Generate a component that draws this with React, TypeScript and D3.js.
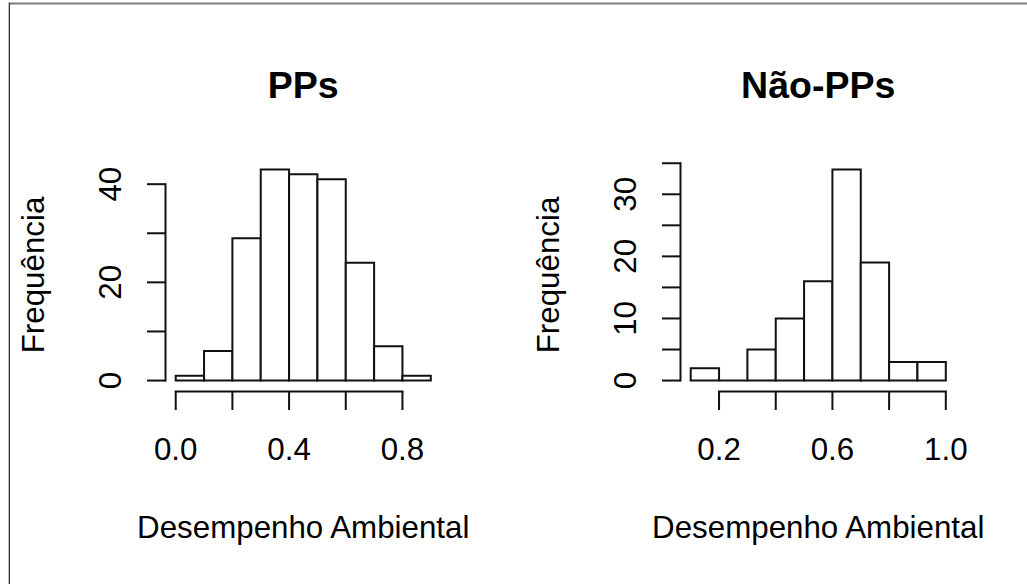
import React from "react";
import * as d3 from "d3";

// Histogram bin counts (bin width 0.1)
const ppsBreaks = [0, 0.1, 0.2, 0.3, 0.4, 0.5, 0.6, 0.7, 0.8, 0.9];
const ppsCounts = [1, 6, 29, 43, 42, 41, 24, 7, 1];

const naoBreaks = [0.1, 0.2, 0.3, 0.4, 0.5, 0.6, 0.7, 0.8, 0.9, 1.0];
const naoCounts = [2, 0, 5, 10, 16, 34, 19, 3, 3];

// Axis ticks and the labels that are printed
const ppsXTicks = [0, 0.2, 0.4, 0.6, 0.8];
const ppsXLabels = [0, 0.4, 0.8];
const ppsYTicks = [0, 10, 20, 30, 40];
const ppsYLabels = [0, 20, 40];

const naoXTicks = [0.2, 0.4, 0.6, 0.8, 1.0];
const naoXLabels = [0.2, 0.6, 1.0];
const naoYTicks = [0, 5, 10, 15, 20, 25, 30, 35];
const naoYLabels = [0, 10, 20, 30];

const titles = ["PPs", "Não-PPs"];
const xTitle = "Desempenho Ambiental";
const yTitle = "Frequência";

const W = 1027;
const H = 584;
const FONT = "'Liberation Sans', Arial, sans-serif";
const FS = 31.3;
const INK = "#111";

type PanelProps = {
  left: number;
  breaks: number[];
  counts: number[];
  xTicks: number[];
  xLabels: number[];
  yTicks: number[];
  yLabels: number[];
  title: string;
};

function Panel({ left, breaks, counts, xTicks, xLabels, yTicks, yLabels, title }: PanelProps) {
  const plotW = 275.5;
  const top = 161;
  const bottom = 389;
  const x0 = breaks[0];
  const x1 = breaks[breaks.length - 1];
  const xr = x1 - x0;
  const x = d3
    .scaleLinear()
    .domain([x0 - 0.04 * xr, x1 + 0.04 * xr])
    .range([left, left + plotW]);
  const yMax = d3.max(counts) as number;
  const y = d3
    .scaleLinear()
    .domain([-0.04 * yMax, yMax * 1.04])
    .range([bottom, top]);

  const axisY = 391.5;
  const tick = 18.5;
  const cx = left + plotW / 2;
  const cy = (top + bottom) / 2;
  const fmt = d3.format(".1f");

  // each bin as a closed outline, so empty bins still show along the baseline
  const barPath = (i: number) => {
    const p = d3.path();
    p.moveTo(x(breaks[i]), y(0));
    p.lineTo(x(breaks[i]), y(counts[i]));
    p.lineTo(x(breaks[i + 1]), y(counts[i]));
    p.lineTo(x(breaks[i + 1]), y(0));
    p.closePath();
    return p.toString();
  };

  return (
    <g>
      {/* bars */}
      {counts.map((_, i) => (
        <path key={i} d={barPath(i)} fill="white" stroke={INK} strokeWidth={2} strokeLinejoin="miter" />
      ))}

      {/* x axis */}
      <line
        x1={x(xTicks[0])}
        x2={x(xTicks[xTicks.length - 1])}
        y1={axisY}
        y2={axisY}
        stroke={INK}
        strokeWidth={2}
        strokeLinecap="square"
      />
      {xTicks.map((t) => (
        <line key={t} x1={x(t)} x2={x(t)} y1={axisY} y2={axisY + tick} stroke={INK} strokeWidth={2} />
      ))}
      {xLabels.map((t) => (
        <text key={t} x={x(t)} y={460} textAnchor="middle" fontFamily={FONT} fontSize={FS} fill="#000">
          {fmt(t)}
        </text>
      ))}

      {/* y axis */}
      <line
        x1={left}
        x2={left}
        y1={y(yTicks[0])}
        y2={y(yTicks[yTicks.length - 1])}
        stroke={INK}
        strokeWidth={2}
        strokeLinecap="square"
      />
      {yTicks.map((t) => (
        <line key={t} x1={left - tick} x2={left} y1={y(t)} y2={y(t)} stroke={INK} strokeWidth={2} />
      ))}
      {yLabels.map((t) => (
        <text
          key={t}
          transform={`translate(${left - 44.5},${y(t)}) rotate(-90)`}
          textAnchor="middle"
          fontFamily={FONT}
          fontSize={FS}
          fill="#000"
        >
          {t}
        </text>
      ))}

      {/* titles */}
      <text x={cx} y={98} textAnchor="middle" fontFamily={FONT} fontSize={FS * 1.2} fontWeight="bold" fill="#000">
        {title}
      </text>
      <text x={cx} y={538} textAnchor="middle" fontFamily={FONT} fontSize={FS} fill="#000">
        {xTitle}
      </text>
      <text
        transform={`translate(${left - 122},${cy}) rotate(-90)`}
        textAnchor="middle"
        fontFamily={FONT}
        fontSize={FS}
        fill="#000"
      >
        {yTitle}
      </text>
    </g>
  );
}

export default function App() {
  return (
    <svg
      width={W}
      height={H}
      style={{ position: "absolute", left: 0, top: 0, background: "white" }}
    >
      <rect x={0} y={0} width={W} height={H} fill="white" />
      {/* frame */}
      <line x1={8} x2={W} y1={3.5} y2={3.5} stroke="#7a7a7a" strokeWidth={2} />
      <line x1={8.5} x2={8.5} y1={3} y2={H} stroke="#bbbbbb" strokeWidth={1} />
      <line x1={9.5} x2={9.5} y1={3} y2={H} stroke="#333333" strokeWidth={1} />

      <Panel
        left={165.5}
        breaks={ppsBreaks}
        counts={ppsCounts}
        xTicks={ppsXTicks}
        xLabels={ppsXLabels}
        yTicks={ppsYTicks}
        yLabels={ppsYLabels}
        title={titles[0]}
      />
      <Panel
        left={680.5}
        breaks={naoBreaks}
        counts={naoCounts}
        xTicks={naoXTicks}
        xLabels={naoXLabels}
        yTicks={naoYTicks}
        yLabels={naoYLabels}
        title={titles[1]}
      />
    </svg>
  );
}
